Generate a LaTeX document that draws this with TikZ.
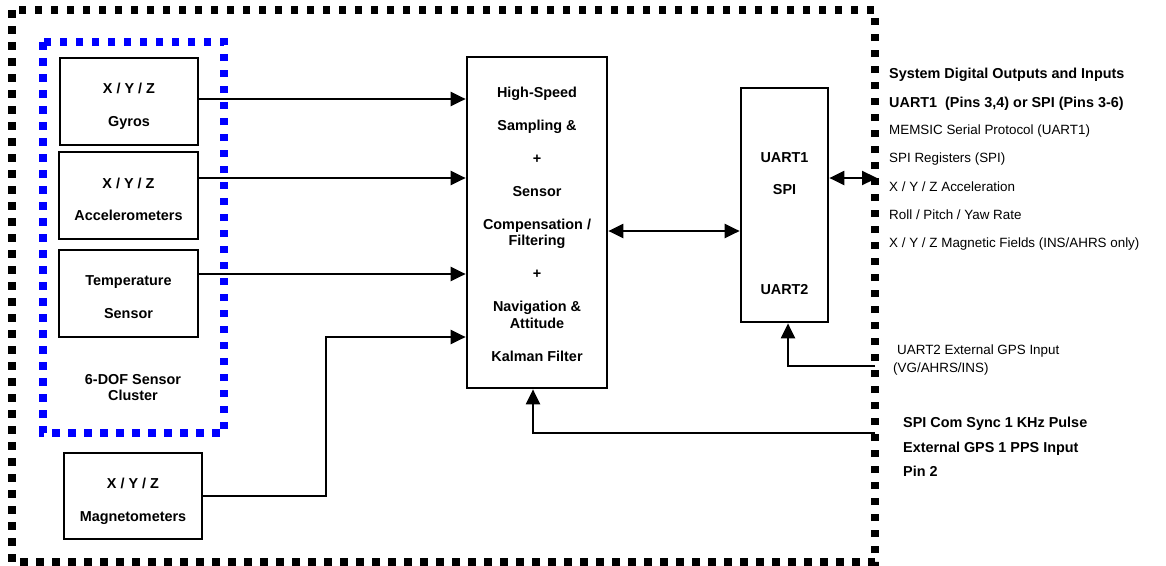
\documentclass[tikz,border=0pt]{standalone}
\usepackage{fontspec}
\setmainfont{Liberation Sans}
\usetikzlibrary{arrows.meta}
\begin{document}
\begin{tikzpicture}[x=1pt,y=-1pt,
  box/.style={draw,line width=2.7pt,inner sep=0pt},
  bt/.style={inner sep=0pt,text height=10.3pt,text depth=0pt,font=\bfseries\fontsize{14.4}{16.5}\selectfont},
  rt/.style={inner sep=0pt,text height=9.6pt,text depth=0pt,font=\fontsize{13.4}{16}\selectfont},
  arr/.style={line width=2.2pt,-{Triangle[length=15pt,width=14pt]}},
  darr/.style={line width=2.2pt,{Triangle[length=15pt,width=14pt]}-{Triangle[length=15pt,width=14pt]}},
  dotbox/.style={line width=7.5pt,dash pattern=on 7.5pt off 8.5pt}
]
\useasboundingbox (0,0) rectangle (1166,565);

% outer system boundary
\draw[dotbox] (12,10) rectangle (875,562);
% sensor cluster boundary
\draw[dotbox,blue] (43,42) rectangle (224,433);

% sensor boxes
\node[box,minimum width=138pt,minimum height=87pt] (gyro) at (129,101.5) {};
\node[bt] (gyro1) at (129,88) {X / Y / Z};
\node[bt] (gyro2) at (129,121) {Gyros};

\node[box,minimum width=139pt,minimum height=87pt] (acc) at (128.5,195.5) {};
\node[bt] (acc1) at (128.5,183) {X / Y / Z};
\node[bt] (acc2) at (128.5,215) {Accelerometers};

\node[box,minimum width=139pt,minimum height=87pt] (temp) at (128.5,293.5) {};
\node[bt] (temp1) at (128.5,280) {Temperature};
\node[bt] (temp2) at (128.5,313) {Sensor};

\node[bt] (cl1) at (133,379) {6-DOF Sensor};
\node[bt] (cl2) at (133,395) {Cluster};

\node[box,minimum width=138pt,minimum height=86pt] (mag) at (133,496) {};
\node[bt] (mag1) at (133,483) {X / Y / Z};
\node[bt] (mag2) at (133,516) {Magnetometers};

% central processing box
\node[box,minimum width=140pt,minimum height=331pt] (ctr) at (537,222.5) {};
\node[inner sep=0pt,align=center,font=\bfseries\fontsize{14.4}{16.5}\selectfont] (ctrtext) at (537,224)
  {High-Speed\\[16.5pt]Sampling \&\\[16.5pt]+\\[16.5pt]Sensor\\[16.5pt]Compensation /\\Filtering\\[16.5pt]+\\[16.5pt]Navigation \&\\Attitude\\[16.5pt]Kalman Filter};

% UART box
\node[box,minimum width=87pt,minimum height=234pt] (uart) at (784.5,205) {};
\node[bt] (u1) at (784.5,157) {UART1};
\node[bt] (u2) at (784.5,189) {SPI};
\node[bt] (u3) at (784.5,289) {UART2};

% external connection points on the boundary
\coordinate (io) at (877,178);
\coordinate (gpsin) at (875,366);
\coordinate (ppsin) at (875,433);

% connectors
\draw[arr] ([yshift=2.5pt]gyro.east) -- ([yshift=2.5pt]gyro.east -| ctr.west);
\draw[arr] ([yshift=17.5pt]acc.east) -- ([yshift=17.5pt]acc.east -| ctr.west);
\draw[arr] ([yshift=19.5pt]temp.east) -- ([yshift=19.5pt]temp.east -| ctr.west);
\draw[arr] (mag.east) -- ++(123,0) |- ([yshift=-114.5pt]ctr.west);
\draw[darr] ([yshift=-8.5pt]ctr.east) -- ([yshift=-8.5pt]ctr.east -| uart.west);
\draw[darr] ([yshift=27pt]uart.east) -- (io);
\draw[arr] (gpsin) -| ([xshift=3.5pt]uart.south);
\draw[arr] (ppsin) -| ([xshift=-4pt]ctr.south);

% right-hand labels
\node[bt,anchor=west] (r1) at (889,73) {System Digital Outputs and Inputs};
\node[bt,anchor=west] (r2) at (889,102) {UART1\ \ (Pins 3,4) or SPI (Pins 3-6)};
\node[rt,anchor=west] (r3) at (889,130) {MEMSIC Serial Protocol (UART1)};
\node[rt,anchor=west] (r4) at (889,158) {SPI Registers (SPI)};
\node[rt,anchor=west] (r5) at (889,187) {X / Y / Z Acceleration};
\node[rt,anchor=west] (r6) at (889,215) {Roll / Pitch / Yaw Rate};
\node[rt,anchor=west] (r7) at (889,243) {X / Y / Z Magnetic Fields (INS/AHRS only)};

\node[rt,anchor=west] (g1) at (897,350) {UART2 External GPS Input};
\node[rt,anchor=west] (g2) at (893,368) {(VG/AHRS/INS)};

\node[bt,anchor=west] (p1) at (903,422) {SPI Com Sync 1 KHz Pulse};
\node[bt,anchor=west] (p2) at (903,447) {External GPS 1 PPS Input};
\node[bt,anchor=west] (p3) at (903,471) {Pin 2};
\end{tikzpicture}
\end{document}
